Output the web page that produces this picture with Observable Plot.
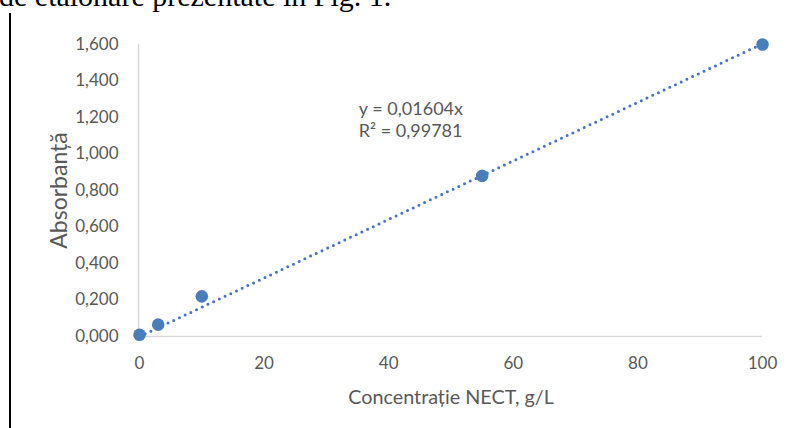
<!DOCTYPE html>
<html>
<head>
<meta charset="utf-8">
<script src="https://cdn.jsdelivr.net/npm/d3@7"></script>
<script src="https://cdn.jsdelivr.net/npm/@observablehq/plot@0.6"></script>
<style>
  html, body { margin: 0; padding: 0; background: #fff; overflow: hidden; }
  #wrap { position: relative; width: 786px; height: 428px; }
  #head { position: absolute; left: -1px; top: -18.6px; font-family: "Liberation Serif", "Times New Roman", serif; font-size: 30px; line-height: 30px; color: #000; white-space: nowrap; }
  #bar { position: absolute; left: 9px; top: 13px; width: 2px; height: 415px; background: #000; }
  #chart { position: absolute; left: 0; top: 0; }
</style>
</head>
<body>
<div id="wrap">
  <div id="chart"></div>
  <div id="head">de etalonare prezentate în Fig. 1.</div>
  <div id="bar"></div>
</div>
<script>
// Data
const concentration = [0, 3, 10, 55, 100];
const absorbance = [0.01, 0.065, 0.22, 0.88, 1.6];
// Trendline y = 0,01604x (endpoints)
const trendX = [0, 100];
const trendY = [0, 1.604];
const xTicks = [0, 20, 40, 60, 80, 100];
const yTicks = [0, 0.2, 0.4, 0.6, 0.8, 1.0, 1.2, 1.4, 1.6];
const equationLines = ["y = 0,01604x", "R² = 0,99781"];
const equationAt = [35.2, 1.192];
const xTitle = "Concentrație NECT, g/L";
const yTitle = "Absorbanță";

const points = concentration.map((c, i) => ({x: c, y: absorbance[i]}));
const trend = trendX.map((t, i) => ({x: t, y: trendY[i]}));
const fmtY = v => d3.format(".3f")(v).replace(".", ",");
const gray = "#595959";
const font = "Lato, 'Open Sans', sans-serif";

const chart = Plot.plot({
  width: 786,
  height: 428,
  marginLeft: 139,
  marginRight: 24,
  marginTop: 44,
  marginBottom: 92,
  style: {fontFamily: font, fontSize: "17px", color: gray, background: "transparent"},
  x: {domain: [0, 100]},
  y: {domain: [0, 1.6]},
  marks: [
    Plot.ruleX([0], {stroke: "#d9d9d9", strokeWidth: 1.5, dx: -1}),
    Plot.ruleY([0], {stroke: "#d9d9d9", strokeWidth: 1.5}),
    Plot.axisY(yTicks, {tickSize: 0, tickPadding: 21, tickFormat: fmtY, label: null, fill: gray, fontSize: 17}),
    Plot.axisX(xTicks, {tickSize: 0, tickPadding: 20, tickFormat: d => String(d), label: null, fill: gray, fontSize: 17}),
    Plot.line(trend, {x: "x", y: "y", stroke: "#4472c4", strokeWidth: 3, strokeDasharray: "0 6.3", strokeLinecap: "round"}),
    Plot.dot(points, {x: "x", y: "y", r: 6.3, fill: "#4a7ebb", stroke: "none"}),
    Plot.text([equationLines.join("\n")], {x: () => equationAt[0], y: () => equationAt[1], textAnchor: "start", lineAnchor: "middle", lineHeight: 1.2, fill: gray, fontSize: 18}),
    Plot.text([xTitle], {frameAnchor: "bottom", dy: 61, lineAnchor: "middle", fill: gray, fontSize: 19.8}),
    Plot.text([yTitle], {frameAnchor: "left", textAnchor: "middle", dx: -80, rotate: -90, lineAnchor: "middle", fill: gray, fontSize: 23})
  ]
});
document.getElementById("chart").appendChild(chart);
</script>
</body>
</html>
